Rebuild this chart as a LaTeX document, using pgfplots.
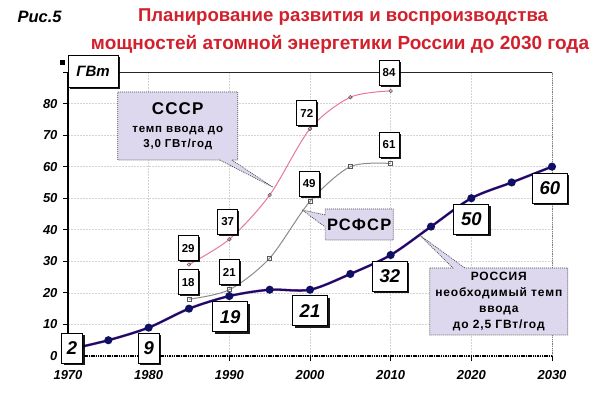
\documentclass[border=0pt]{standalone}
\usepackage{pgfplots}
\pgfplotsset{compat=1.18}
\usepackage{fontspec}
\setmainfont{Liberation Sans}
\newfontfamily\spaced[LetterSpace=7]{Liberation Sans}
\usetikzlibrary{shapes.callouts,shadows}
\definecolor{titlered}{RGB}{210,32,44}
\definecolor{lav}{RGB}{222,216,238}
\definecolor{navyline}{RGB}{15,15,100}
\definecolor{magline}{RGB}{205,90,190}
\definecolor{pinkline}{RGB}{232,120,150}
\definecolor{grayline}{RGB}{140,140,140}
\definecolor{gridc}{RGB}{212,212,212}
\tikzset{
  rbox/.style={draw=black, fill=white, line width=0.8pt,
    drop shadow={shadow xshift=2pt, shadow yshift=-2pt, fill=black, opacity=0.9},
    font=\fontsize{18.5}{20}\selectfont\bfseries\itshape,
    minimum height=30pt, minimum width=35pt, inner sep=1pt},
  sbox/.style={draw=black, fill=white, line width=0.7pt,
    drop shadow={shadow xshift=1.5pt, shadow yshift=-1.5pt, fill=black, opacity=0.9},
    font=\fontsize{11.5}{13}\selectfont\bfseries,
    minimum height=25pt, minimum width=20pt, inner sep=1pt},
  cbox/.style={rectangle callout, draw=gray!60!black, line width=0.7pt,
    dash pattern=on 1pt off 1pt, fill=lav, align=center,
    callout pointer width=12pt, inner sep=2pt,
    font=\spaced\fontsize{12}{16}\selectfont\bfseries}
}
\begin{document}
\begin{tikzpicture}
\useasboundingbox (0,0) rectangle (601pt,417pt);
\fill[white] (0,0) rectangle (601pt,417pt);
\node[anchor=west, font=\fontsize{16.5}{18}\selectfont\bfseries\itshape] at (14pt,400pt) {Рис.5};
\node[font=\fontsize{18.6}{20}\selectfont\bfseries, text=titlered] at (343pt,400pt) {Планирование развития и воспроизводства};
\node[font=\fontsize{19}{21}\selectfont\bfseries, text=titlered] at (340pt,373pt) {мощностей атомной энергетики России до 2030 года};

\begin{axis}[
  at={(68pt,61pt)}, anchor=south west,
  scale only axis, width=484pt, height=284pt,
  xmin=1970, xmax=2030, ymin=0, ymax=90,
  xtick={1970,1980,...,2030}, ytick={0,10,...,90},
  yticklabels={0,10,20,30,40,50,60,70,80,},
  grid=major, grid style={gridc, line width=0.6pt, dash pattern=on 2pt off 1pt},
  axis line style={draw=none},
  tick pos=left, tick align=outside, major tick length=5pt,
  tick style={black, line width=0.8pt},
  ticklabel style={font=\fontsize{13}{15}\selectfont\bfseries\itshape},
  xticklabel style={yshift=-6pt},
  yticklabel style={xshift=-2pt},
  /pgf/number format/assume math mode=true,
  /pgf/number format/1000 sep={},
  clip=false,
]
% USSR
\addplot[pinkline, line width=1pt, smooth, mark=o, mark size=1.8pt,
  mark options={draw=gray!70!black, fill=white, line width=0.6pt}]
  coordinates {(1985,29)(1990,37)(1995,51)(2000,72)(2005,82)(2010,84)};
% RSFSR
\addplot[grayline, line width=1pt, smooth, mark=square, mark size=2pt,
  mark options={draw=gray!70!black, fill=white, line width=0.6pt}]
  coordinates {(1985,18)(1990,21)(1995,31)(2000,49)(2005,60)(2010,61)};
% Russia
\addplot[magline, line width=2.6pt, smooth, no marks]
  coordinates {(1970,2)(1975,5)(1980,9)(1985,15)(1990,19)(1995,21)(2000,21)(2005,26)(2010,32)(2015,41)(2020,50)(2025,55)(2030,60)};
\addplot[navyline, line width=2pt, smooth, mark=*, mark size=3pt,
  mark indices={2,3,4,5,6,7,8,9,10,11,12,13},
  mark options={fill=navyline}]
  coordinates {(1970,2)(1975,5)(1980,9)(1985,15)(1990,19)(1995,21)(2000,21)(2005,26)(2010,32)(2015,41)(2020,50)(2025,55)(2030,60)};

% axis frame
\draw[black, line width=1.1pt] (rel axis cs:0,0) -- (rel axis cs:0,1);
\draw[black!85, line width=0.8pt] (rel axis cs:0,1) -- (rel axis cs:1,1);
\draw[gray, line width=0.8pt, densely dotted] (rel axis cs:1,0) -- (rel axis cs:1,1);
\draw[black, line width=1.6pt, dash pattern=on 1.5pt off 0.8pt] (rel axis cs:0,0) -- (rel axis cs:1,0);

% callouts
\node[cbox, minimum width=120pt, minimum height=68pt,
  callout absolute pointer={(axis cs:1995.4,53.5)},
  font=\spaced\fontsize{11.5}{15}\selectfont\bfseries]
  at (axis cs:1983.6,72.9)
  {{\fontsize{17}{20}\selectfont СССР}\\[3pt]темп ввода до\\3,0 ГВт/год};
\node[cbox, minimum width=68pt, minimum height=31pt,
  callout absolute pointer={(axis cs:1999,46.3)},
  font=\spaced\fontsize{16.5}{18}\selectfont\bfseries]
  at (axis cs:2006.1,41.7) {РСФСР};
\node[cbox, minimum width=138pt, minimum height=67pt,
  callout absolute pointer={(axis cs:2013.6,38.3)}]
  at (axis cs:2023.4,17.3)
  {РОССИЯ\\необходимый темп\\ввода\\до 2,5 ГВт/год};

% Russia labels
\node[rbox, minimum width=21pt] at (axis cs:1970.5,2.5) {2};
\node[rbox, minimum width=21pt] at (axis cs:1980,2.5) {9};
\node[rbox] at (axis cs:1990.1,12.4) {19};
\node[rbox] at (axis cs:2000,14.3) {21};
\node[rbox] at (axis cs:2009.9,25.3) {32};
\node[rbox] at (axis cs:2020,43.4) {50};
\node[rbox] at (axis cs:2029.75,53.2) {60};
% USSR labels
\node[sbox] at (axis cs:1984.9,34.2) {29};
\node[sbox] at (axis cs:1989.8,42.5) {37};
\node[sbox] at (axis cs:1999.6,77) {72};
\node[sbox] at (axis cs:2009.8,89.7) {84};
% RSFSR labels
\node[sbox] at (axis cs:1984.9,23.4) {18};
\node[sbox] at (axis cs:1990,26.6) {21};
\node[sbox] at (axis cs:1999.9,54.5) {49};
\node[sbox] at (axis cs:2009.8,66.9) {61};
% unit box
\node[draw=black, fill=white, line width=0.8pt,
  drop shadow={shadow xshift=1.5pt, shadow yshift=-1.5pt, fill=black, opacity=0.9},
  minimum width=50pt, minimum height=32pt, inner sep=1pt,
  font=\fontsize{15}{17}\selectfont\bfseries\itshape]
  at (axis cs:1973.1,90.3) {ГВт};
\end{axis}
\fill[black] (60pt,352pt) rectangle (64.5pt,357pt);
\end{tikzpicture}
\end{document}
